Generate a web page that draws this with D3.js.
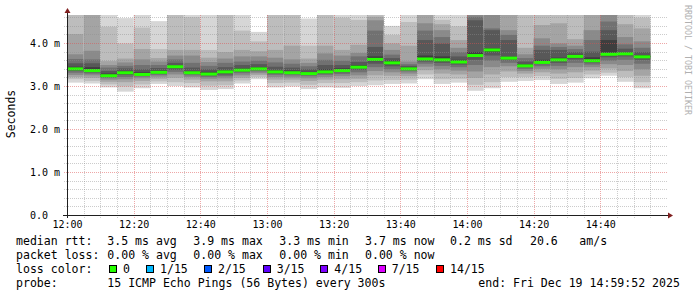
<!DOCTYPE html>
<html>
<head>
<meta charset="utf-8">
<script src="https://cdn.jsdelivr.net/npm/d3@7"></script>
<style>
  body { margin: 0; background: #fff; }
  text { font-family: "DejaVu Sans Mono", monospace; }
</style>
</head>
<body>
<svg id="graph" width="697" height="297"></svg>
<script>
// 15 sorted ping rtts (ms) per 5 minute step from 12:00, median = pings[7]
var pings = [
  [3.09,3.17,3.22,3.27,3.32,3.36,3.39,3.41,3.46,3.54,3.64,3.75,4.22,4.8,5.0],
  [3.07,3.13,3.20,3.26,3.30,3.33,3.35,3.37,3.45,3.54,3.63,3.83,4.8,4.9,5.0],
  [2.98,3.05,3.11,3.16,3.20,3.22,3.24,3.25,3.30,3.36,3.44,3.50,3.59,4.39,5.0],
  [2.88,3.00,3.10,3.17,3.22,3.27,3.30,3.32,3.36,3.42,3.48,3.56,3.65,4.00,4.59],
  [2.96,3.05,3.13,3.19,3.23,3.25,3.27,3.28,3.33,3.40,3.50,3.63,3.87,4.37,5.0],
  [3.06,3.12,3.18,3.23,3.27,3.30,3.32,3.33,3.37,3.43,3.50,3.58,3.66,3.87,4.52],
  [3.01,3.10,3.20,3.28,3.34,3.39,3.43,3.46,3.49,3.55,3.63,3.72,3.85,4.8,5.0],
  [2.98,3.08,3.16,3.22,3.26,3.29,3.31,3.32,3.36,3.44,3.55,3.72,3.85,4.61,5.0],
  [2.92,3.02,3.12,3.18,3.22,3.26,3.28,3.29,3.34,3.40,3.48,3.57,3.67,3.85,5.0],
  [2.94,3.03,3.12,3.19,3.24,3.28,3.32,3.34,3.38,3.45,3.55,3.65,3.80,4.8,5.0],
  [3.07,3.14,3.20,3.26,3.31,3.34,3.36,3.38,3.42,3.50,3.58,3.70,3.85,4.30,5.0],
  [3.17,3.22,3.27,3.31,3.35,3.38,3.40,3.41,3.45,3.52,3.60,3.70,3.82,4.05,4.27],
  [2.98,3.08,3.16,3.22,3.27,3.30,3.32,3.34,3.38,3.46,3.56,3.67,3.85,4.8,5.0],
  [3.00,3.09,3.16,3.21,3.26,3.29,3.31,3.32,3.37,3.44,3.53,3.63,3.95,4.8,5.0],
  [2.94,3.04,3.13,3.19,3.24,3.27,3.29,3.30,3.34,3.40,3.47,3.55,3.65,3.95,4.58],
  [2.98,3.08,3.16,3.22,3.27,3.30,3.32,3.34,3.40,3.50,3.62,3.77,3.95,4.8,5.0],
  [2.97,3.08,3.17,3.24,3.29,3.33,3.35,3.37,3.42,3.50,3.60,3.72,3.85,4.60,5.0],
  [3.01,3.10,3.18,3.26,3.33,3.39,3.43,3.45,3.50,3.57,3.70,3.78,3.97,4.55,5.0],
  [3.03,3.14,3.26,3.36,3.45,3.53,3.59,3.63,3.70,3.92,4.30,4.54,4.62,4.8,5.0],
  [3.06,3.15,3.25,3.33,3.40,3.47,3.52,3.55,3.60,3.66,3.74,3.85,4.00,4.20,4.41],
  [3.07,3.16,3.24,3.30,3.35,3.38,3.40,3.41,3.44,3.48,3.52,3.58,3.95,4.50,5.0],
  [3.17,3.28,3.38,3.46,3.53,3.58,3.62,3.64,3.72,4.08,4.30,4.47,4.8,4.9,5.0],
  [3.06,3.17,3.30,3.40,3.48,3.55,3.59,3.62,3.70,4.00,4.15,4.31,4.45,4.55,5.0],
  [3.09,3.18,3.28,3.37,3.45,3.51,3.55,3.57,3.62,3.70,3.80,3.90,4.08,4.40,5.0],
  [2.90,3.04,3.20,3.35,3.50,3.62,3.69,3.72,3.80,4.54,4.62,4.8,4.9,5.0,5.1],
  [2.96,3.10,3.28,3.45,3.60,3.72,3.80,3.85,3.89,4.31,4.35,4.8,4.9,5.0,5.1],
  [3.11,3.22,3.35,3.47,3.55,3.61,3.64,3.66,3.69,4.08,4.20,4.31,4.8,4.9,5.0],
  [3.13,3.22,3.30,3.36,3.41,3.45,3.47,3.48,3.52,3.58,3.66,3.75,3.90,4.8,5.0],
  [3.15,3.24,3.33,3.41,3.47,3.52,3.55,3.56,3.62,3.85,3.95,4.12,4.43,4.8,5.0],
  [3.06,3.18,3.30,3.40,3.48,3.55,3.60,3.62,3.67,3.85,3.92,4.00,4.47,4.8,5.0],
  [3.09,3.20,3.33,3.45,3.55,3.63,3.68,3.70,3.74,3.80,3.87,3.95,4.10,4.8,5.0],
  [3.19,3.28,3.37,3.45,3.51,3.56,3.59,3.60,3.68,3.81,4.08,4.31,4.8,4.9,5.0],
  [3.25,3.32,3.42,3.52,3.60,3.68,3.73,3.75,4.08,4.31,4.51,4.8,4.9,5.0,5.1],
  [3.11,3.22,3.36,3.50,3.62,3.70,3.74,3.76,3.80,3.88,3.98,4.15,4.45,4.8,5.0],
  [2.96,3.10,3.25,3.40,3.53,3.62,3.67,3.69,3.73,3.80,3.90,4.05,4.35,4.60,5.0]
];
var xTicks = ["12:00", "12:20", "12:40", "13:00", "13:20", "13:40", "14:00", "14:20", "14:40"];
var yTicks = [0, 1, 2, 3, 4];
var smokeColors = ["#d6d6d6", "#bdbdbd", "#a4a4a4", "#8a8a8a", "#717171", "#585858", "#3e3e3e"];
var lossLabels = ["0", "1/15", "2/15", "3/15", "4/15", "7/15", "14/15"];
var lossColors = ["#26ff00", "#00b8ff", "#0059ff", "#5e00ff", "#7e00ff", "#dd00ff", "#ff0000"];

var svg = d3.select("#graph");
var parseTime = d3.timeParse("%H:%M");
var t0 = parseTime("12:00"), t1 = parseTime("15:00");

var x = d3.scaleTime().domain([t0, t1]).range([67, 667]);
var y = d3.scaleLinear().domain([0, 200 / 43]).range([215.5, 15.5]);

function stepX(i) {
  return x(d3.timeMinute.offset(t0, 5 * i));
}

svg.append("rect").attr("width", 697).attr("height", 297).attr("fill", "#fff");

svg.append("clipPath").attr("id", "plot")
  .append("rect").attr("x", 67).attr("y", 15).attr("width", 600).attr("height", 201);

// smoke
var steps = svg.append("g").attr("clip-path", "url(#plot)")
  .selectAll("g")
  .data(pings)
  .enter()
  .append("g");

smokeColors.forEach(function (c, k) {
  steps.append("rect")
    .attr("x", function (d, i) { return stepX(i); })
    .attr("width", function (d, i) { return stepX(i + 1) - stepX(i); })
    .attr("y", function (d) { return y(d[14 - k]); })
    .attr("height", function (d) { return y(d[k]) - y(d[14 - k]); })
    .attr("fill", c);
});

// median rtt
steps.append("rect")
  .attr("x", function (d, i) { return stepX(i); })
  .attr("width", function (d, i) { return stepX(i + 1) - stepX(i); })
  .attr("y", function (d) { return y(d[7]) - 1.5; })
  .attr("height", 3)
  .attr("fill", lossColors[0]);

// grid
var grid = svg.append("g").attr("stroke-width", 1).attr("stroke-dasharray", "1,1");
var minorY = d3.range(1, 24).map(function (i) { return i * 0.2; }).filter(function (v) {
  return Math.abs(v - Math.round(v)) > 0.01;
});
grid.selectAll("line.hmin")
  .data(minorY)
  .enter()
  .append("line")
  .attr("x1", 64).attr("x2", 668)
  .attr("y1", function (d) { return Math.floor(y(d)) + 0.5; })
  .attr("y2", function (d) { return Math.floor(y(d)) + 0.5; })
  .attr("stroke", "rgba(143,143,143,0.45)");

var minorX = d3.timeMinute.every(5).range(d3.timeMinute.offset(t0, 5), t1).filter(function (t) {
  return t.getMinutes() % 20 != 0;
});
grid.selectAll("line.vmin")
  .data(minorX)
  .enter()
  .append("line")
  .attr("y1", 15).attr("y2", 218)
  .attr("x1", function (d) { return Math.round(x(d)) + 0.5; })
  .attr("x2", function (d) { return Math.round(x(d)) + 0.5; })
  .attr("stroke", "rgba(143,143,143,0.45)");

grid.selectAll("line.hmaj")
  .data(yTicks.slice(1))
  .enter()
  .append("line")
  .attr("x1", 64).attr("x2", 668)
  .attr("y1", function (d) { return Math.floor(y(d)) + 0.5; })
  .attr("y2", function (d) { return Math.floor(y(d)) + 0.5; })
  .attr("stroke", "rgba(222,79,79,0.5)");

grid.selectAll("line.vmaj")
  .data(xTicks.slice(1))
  .enter()
  .append("line")
  .attr("y1", 15).attr("y2", 218)
  .attr("x1", function (d) { return Math.round(x(parseTime(d))) + 0.5; })
  .attr("x2", function (d) { return Math.round(x(parseTime(d))) + 0.5; })
  .attr("stroke", "rgba(222,79,79,0.5)");

// axes
svg.append("line").attr("x1", 63).attr("x2", 669).attr("y1", 215.5).attr("y2", 215.5)
  .attr("stroke", "#1f1f1f");
svg.append("line").attr("x1", 67.5).attr("x2", 67.5).attr("y1", 218).attr("y2", 11)
  .attr("stroke", "#1f1f1f");
svg.append("path").attr("d", "M668,212.5L673,215.5L668,218.5Z").attr("fill", "#801f1f");
svg.append("path").attr("d", "M64.5,13L67.5,8L70.5,13Z").attr("fill", "#801f1f");

svg.selectAll("text.ylab")
  .data(yTicks)
  .enter()
  .append("text")
  .attr("x", 30)
  .attr("y", function (d) { return Math.floor(y(d)) + 4; })
  .attr("font-size", "10px")
  .attr("fill", "#000")
  .text(function (d) { return d == 0 ? "0.0" : d.toFixed(1) + " m"; });

svg.selectAll("text.xlab")
  .data(xTicks)
  .enter()
  .append("text")
  .attr("x", function (d) { return x(parseTime(d)) + 0.5; })
  .attr("y", 228)
  .attr("text-anchor", "middle")
  .attr("font-size", "10px")
  .attr("fill", "#000")
  .text(function (d) { return d; });

svg.append("text")
  .attr("transform", "translate(15,114) rotate(-90)")
  .attr("text-anchor", "middle")
  .attr("font-size", "11.5px")
  .text("Seconds");

svg.append("text")
  .attr("transform", "translate(685,5) rotate(90)")
  .attr("font-size", "8.3px")
  .attr("fill", "#b0b0b0")
  .text("RRDTOOL / TOBI OETIKER");

// legend
var legendRows = [
  [[16, "median rtt:"], [107.3, "3.5 ms avg"], [193.3, "3.9 ms max"], [279.3, "3.3 ms min"],
   [365, "3.7 ms now"], [450, "0.2 ms sd"], [530, "20.6"], [579.3, "am/s"]],
  [[16, "packet loss:"], [107.3, "0.00 % avg"], [193.3, "0.00 % max"], [279.3, "0.00 % min"],
   [365, "0.00 % now"]],
  [[16, "loss color:"]],
  [[16, "probe:"], [107.3, "15 ICMP Echo Pings (56 Bytes) every 300s"],
   [478.3, "end: Fri Dec 19 14:59:52 2025"]]
];
legendRows.forEach(function (row, r) {
  svg.selectAll("text.leg" + r)
    .data(row)
    .enter()
    .append("text")
    .attr("x", function (d) { return d[0]; })
    .attr("y", 245 + r * 14)
    .attr("font-size", "11.55px")
    .attr("fill", "#000")
    .text(function (d) { return d[1]; });
});

var lossX = [123, 160, 218, 276.7, 334.3, 391.7, 450];
var lossItems = svg.selectAll("g.loss")
  .data(lossLabels)
  .enter()
  .append("g");
lossItems.append("rect")
  .attr("x", function (d, i) { return Math.round(lossX[i] - 14) + 0.5; })
  .attr("y", 265.5)
  .attr("width", 7)
  .attr("height", 7)
  .attr("fill", function (d, i) { return lossColors[i]; })
  .attr("stroke", "#000");
lossItems.append("text")
  .attr("x", function (d, i) { return lossX[i]; })
  .attr("y", 273)
  .attr("font-size", "11.55px")
  .text(function (d) { return d; });
</script>
</body>
</html>
